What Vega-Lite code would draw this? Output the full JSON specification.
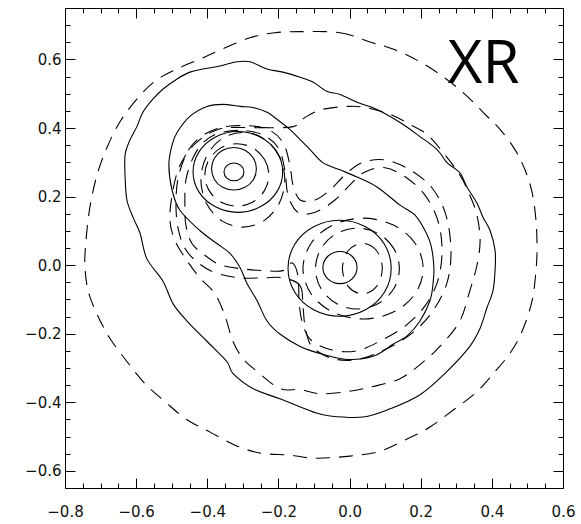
{
"$schema": "https://vega.github.io/schema/vega-lite/v6.json",
"width": 498, "height": 480,
"autosize": {"type": "none"},
"padding": {"left": 65, "top": 8, "right": 18, "bottom": 36},
"background": "white",
"config": {"view": {"stroke": "black", "strokeWidth": 1}},
"datasets": {
"contours": [
{"c":"S1","s":"o","i":0,"x":-0.280,"y":0.593},{"c":"S1","s":"o","i":1,"x":-0.232,"y":0.572},{"c":"S1","s":"o","i":2,"x":-0.187,"y":0.563},{"c":"S1","s":"o","i":3,"x":-0.139,"y":0.548},{"c":"S1","s":"o","i":4,"x":-0.103,"y":0.534},{"c":"S1","s":"o","i":5,"x":-0.064,"y":0.507},{"c":"S1","s":"o","i":6,"x":-0.027,"y":0.498},{"c":"S1","s":"o","i":7,"x":0.021,"y":0.475},{"c":"S1","s":"o","i":8,"x":0.077,"y":0.454},{"c":"S1","s":"o","i":9,"x":0.142,"y":0.416},{"c":"S1","s":"o","i":10,"x":0.198,"y":0.375},{"c":"S1","s":"o","i":11,"x":0.246,"y":0.337},{"c":"S1","s":"o","i":12,"x":0.274,"y":0.299},{"c":"S1","s":"o","i":13,"x":0.310,"y":0.269},{"c":"S1","s":"o","i":14,"x":0.330,"y":0.228},{"c":"S1","s":"o","i":15,"x":0.358,"y":0.181},{"c":"S1","s":"o","i":16,"x":0.375,"y":0.140},{"c":"S1","s":"o","i":17,"x":0.395,"y":0.101},{"c":"S1","s":"o","i":18,"x":0.409,"y":0.043},{"c":"S1","s":"o","i":19,"x":0.409,"y":-0.016},{"c":"S1","s":"o","i":20,"x":0.403,"y":-0.075},{"c":"S1","s":"o","i":21,"x":0.386,"y":-0.125},{"c":"S1","s":"o","i":22,"x":0.367,"y":-0.184},{"c":"S1","s":"o","i":23,"x":0.338,"y":-0.237},{"c":"S1","s":"o","i":24,"x":0.274,"y":-0.310},{"c":"S1","s":"o","i":25,"x":0.198,"y":-0.378},{"c":"S1","s":"o","i":26,"x":0.114,"y":-0.419},{"c":"S1","s":"o","i":27,"x":0.038,"y":-0.443},{"c":"S1","s":"o","i":28,"x":-0.055,"y":-0.440},{"c":"S1","s":"o","i":29,"x":-0.103,"y":-0.428},{"c":"S1","s":"o","i":30,"x":-0.196,"y":-0.390},{"c":"S1","s":"o","i":31,"x":-0.272,"y":-0.360},{"c":"S1","s":"o","i":32,"x":-0.328,"y":-0.316},{"c":"S1","s":"o","i":33,"x":-0.345,"y":-0.281},{"c":"S1","s":"o","i":34,"x":-0.401,"y":-0.222},{"c":"S1","s":"o","i":35,"x":-0.457,"y":-0.163},{"c":"S1","s":"o","i":36,"x":-0.496,"y":-0.113},{"c":"S1","s":"o","i":37,"x":-0.525,"y":-0.046},{"c":"S1","s":"o","i":38,"x":-0.570,"y":0.019},{"c":"S1","s":"o","i":39,"x":-0.589,"y":0.093},{"c":"S1","s":"o","i":40,"x":-0.609,"y":0.140},{"c":"S1","s":"o","i":41,"x":-0.626,"y":0.190},{"c":"S1","s":"o","i":42,"x":-0.631,"y":0.257},{"c":"S1","s":"o","i":43,"x":-0.631,"y":0.322},{"c":"S1","s":"o","i":44,"x":-0.617,"y":0.366},{"c":"S1","s":"o","i":45,"x":-0.598,"y":0.404},{"c":"S1","s":"o","i":46,"x":-0.581,"y":0.446},{"c":"S1","s":"o","i":47,"x":-0.553,"y":0.484},{"c":"S1","s":"o","i":48,"x":-0.525,"y":0.513},{"c":"S1","s":"o","i":49,"x":-0.485,"y":0.543},{"c":"S1","s":"o","i":50,"x":-0.449,"y":0.563},{"c":"S1","s":"o","i":51,"x":-0.412,"y":0.572},{"c":"S1","s":"o","i":52,"x":-0.364,"y":0.581},{"c":"S1","s":"o","i":53,"x":-0.317,"y":0.593},
{"c":"S2","s":"o","i":0,"x":-0.477,"y":0.160},{"c":"S2","s":"o","i":1,"x":-0.499,"y":0.219},{"c":"S2","s":"o","i":2,"x":-0.508,"y":0.293},{"c":"S2","s":"o","i":3,"x":-0.499,"y":0.351},{"c":"S2","s":"o","i":4,"x":-0.485,"y":0.387},{"c":"S2","s":"o","i":5,"x":-0.449,"y":0.434},{"c":"S2","s":"o","i":6,"x":-0.401,"y":0.463},{"c":"S2","s":"o","i":7,"x":-0.356,"y":0.469},{"c":"S2","s":"o","i":8,"x":-0.308,"y":0.463},{"c":"S2","s":"o","i":9,"x":-0.272,"y":0.460},{"c":"S2","s":"o","i":10,"x":-0.232,"y":0.446},{"c":"S2","s":"o","i":11,"x":-0.196,"y":0.419},{"c":"S2","s":"o","i":12,"x":-0.168,"y":0.396},{"c":"S2","s":"o","i":13,"x":-0.139,"y":0.366},{"c":"S2","s":"o","i":14,"x":-0.111,"y":0.337},{"c":"S2","s":"o","i":15,"x":-0.075,"y":0.299},{"c":"S2","s":"o","i":16,"x":-0.027,"y":0.278},{"c":"S2","s":"o","i":17,"x":0.021,"y":0.257},{"c":"S2","s":"o","i":18,"x":0.077,"y":0.228},{"c":"S2","s":"o","i":19,"x":0.142,"y":0.175},{"c":"S2","s":"o","i":20,"x":0.184,"y":0.146},{"c":"S2","s":"o","i":21,"x":0.212,"y":0.101},{"c":"S2","s":"o","i":22,"x":0.229,"y":0.057},{"c":"S2","s":"o","i":23,"x":0.237,"y":-0.007},{"c":"S2","s":"o","i":24,"x":0.234,"y":-0.060},{"c":"S2","s":"o","i":25,"x":0.226,"y":-0.104},{"c":"S2","s":"o","i":26,"x":0.198,"y":-0.163},{"c":"S2","s":"o","i":27,"x":0.161,"y":-0.207},{"c":"S2","s":"o","i":28,"x":0.122,"y":-0.231},{"c":"S2","s":"o","i":29,"x":0.066,"y":-0.266},{"c":"S2","s":"o","i":30,"x":-0.007,"y":-0.275},{"c":"S2","s":"o","i":31,"x":-0.075,"y":-0.260},{"c":"S2","s":"o","i":32,"x":-0.139,"y":-0.237},{"c":"S2","s":"o","i":33,"x":-0.196,"y":-0.201},{"c":"S2","s":"o","i":34,"x":-0.232,"y":-0.163},{"c":"S2","s":"o","i":35,"x":-0.260,"y":-0.104},{"c":"S2","s":"o","i":36,"x":-0.288,"y":-0.054},{"c":"S2","s":"o","i":37,"x":-0.308,"y":-0.007},{"c":"S2","s":"o","i":38,"x":-0.336,"y":0.034},{"c":"S2","s":"o","i":39,"x":-0.373,"y":0.063},{"c":"S2","s":"o","i":40,"x":-0.421,"y":0.101},
{"c":"S3","s":"o","i":0,"x":-0.188,"y":0.272},{"c":"S3","s":"o","i":1,"x":-0.205,"y":0.331},{"c":"S3","s":"o","i":2,"x":-0.251,"y":0.374},{"c":"S3","s":"o","i":3,"x":-0.314,"y":0.390},{"c":"S3","s":"o","i":4,"x":-0.377,"y":0.374},{"c":"S3","s":"o","i":5,"x":-0.423,"y":0.331},{"c":"S3","s":"o","i":6,"x":-0.440,"y":0.272},{"c":"S3","s":"o","i":7,"x":-0.423,"y":0.213},{"c":"S3","s":"o","i":8,"x":-0.377,"y":0.170},{"c":"S3","s":"o","i":9,"x":-0.314,"y":0.154},{"c":"S3","s":"o","i":10,"x":-0.251,"y":0.170},{"c":"S3","s":"o","i":11,"x":-0.205,"y":0.213},
{"c":"S4","s":"o","i":0,"x":-0.262,"y":0.281},{"c":"S4","s":"o","i":1,"x":-0.270,"y":0.312},{"c":"S4","s":"o","i":2,"x":-0.294,"y":0.335},{"c":"S4","s":"o","i":3,"x":-0.325,"y":0.343},{"c":"S4","s":"o","i":4,"x":-0.357,"y":0.335},{"c":"S4","s":"o","i":5,"x":-0.380,"y":0.312},{"c":"S4","s":"o","i":6,"x":-0.388,"y":0.281},{"c":"S4","s":"o","i":7,"x":-0.380,"y":0.250},{"c":"S4","s":"o","i":8,"x":-0.357,"y":0.227},{"c":"S4","s":"o","i":9,"x":-0.325,"y":0.219},{"c":"S4","s":"o","i":10,"x":-0.294,"y":0.227},{"c":"S4","s":"o","i":11,"x":-0.270,"y":0.250},
{"c":"S5","s":"o","i":0,"x":-0.297,"y":0.272},{"c":"S5","s":"o","i":1,"x":-0.305,"y":0.290},{"c":"S5","s":"o","i":2,"x":-0.325,"y":0.298},{"c":"S5","s":"o","i":3,"x":-0.345,"y":0.290},{"c":"S5","s":"o","i":4,"x":-0.353,"y":0.272},{"c":"S5","s":"o","i":5,"x":-0.345,"y":0.254},{"c":"S5","s":"o","i":6,"x":-0.325,"y":0.246},{"c":"S5","s":"o","i":7,"x":-0.305,"y":0.254},
{"c":"S6","s":"o","i":0,"x":0.117,"y":-0.009},{"c":"S6","s":"o","i":1,"x":0.098,"y":0.061},{"c":"S6","s":"o","i":2,"x":0.045,"y":0.112},{"c":"S6","s":"o","i":3,"x":-0.028,"y":0.131},{"c":"S6","s":"o","i":4,"x":-0.101,"y":0.112},{"c":"S6","s":"o","i":5,"x":-0.154,"y":0.061},{"c":"S6","s":"o","i":6,"x":-0.173,"y":-0.009},{"c":"S6","s":"o","i":7,"x":-0.154,"y":-0.079},{"c":"S6","s":"o","i":8,"x":-0.101,"y":-0.130},{"c":"S6","s":"o","i":9,"x":-0.028,"y":-0.149},{"c":"S6","s":"o","i":10,"x":0.045,"y":-0.130},{"c":"S6","s":"o","i":11,"x":0.098,"y":-0.079},
{"c":"S7","s":"o","i":0,"x":0.021,"y":-0.007},{"c":"S7","s":"o","i":1,"x":0.007,"y":0.026},{"c":"S7","s":"o","i":2,"x":-0.027,"y":0.040},{"c":"S7","s":"o","i":3,"x":-0.061,"y":0.026},{"c":"S7","s":"o","i":4,"x":-0.075,"y":-0.007},{"c":"S7","s":"o","i":5,"x":-0.061,"y":-0.040},{"c":"S7","s":"o","i":6,"x":-0.027,"y":-0.054},{"c":"S7","s":"o","i":7,"x":0.007,"y":-0.040},
{"c":"D1","s":"m","i":0,"x":-0.139,"y":0.681},{"c":"D1","s":"m","i":1,"x":-0.027,"y":0.678},{"c":"D1","s":"m","i":2,"x":0.057,"y":0.651},{"c":"D1","s":"m","i":3,"x":0.128,"y":0.628},{"c":"D1","s":"m","i":4,"x":0.198,"y":0.593},{"c":"D1","s":"m","i":5,"x":0.268,"y":0.546},{"c":"D1","s":"m","i":6,"x":0.330,"y":0.493},{"c":"D1","s":"m","i":7,"x":0.381,"y":0.440},{"c":"D1","s":"m","i":8,"x":0.423,"y":0.396},{"c":"D1","s":"m","i":9,"x":0.465,"y":0.337},{"c":"D1","s":"m","i":10,"x":0.493,"y":0.278},{"c":"D1","s":"m","i":11,"x":0.513,"y":0.213},{"c":"D1","s":"m","i":12,"x":0.524,"y":0.131},{"c":"D1","s":"m","i":13,"x":0.527,"y":0.051},{"c":"D1","s":"m","i":14,"x":0.524,"y":-0.016},{"c":"D1","s":"m","i":15,"x":0.513,"y":-0.104},{"c":"D1","s":"m","i":16,"x":0.485,"y":-0.193},{"c":"D1","s":"m","i":17,"x":0.451,"y":-0.257},{"c":"D1","s":"m","i":18,"x":0.409,"y":-0.310},{"c":"D1","s":"m","i":19,"x":0.358,"y":-0.369},{"c":"D1","s":"m","i":20,"x":0.296,"y":-0.419},{"c":"D1","s":"m","i":21,"x":0.226,"y":-0.472},{"c":"D1","s":"m","i":22,"x":0.156,"y":-0.510},{"c":"D1","s":"m","i":23,"x":0.085,"y":-0.543},{"c":"D1","s":"m","i":24,"x":0.001,"y":-0.557},{"c":"D1","s":"m","i":25,"x":-0.097,"y":-0.563},{"c":"D1","s":"m","i":26,"x":-0.168,"y":-0.554},{"c":"D1","s":"m","i":27,"x":-0.252,"y":-0.548},{"c":"D1","s":"m","i":28,"x":-0.322,"y":-0.525},{"c":"D1","s":"m","i":29,"x":-0.392,"y":-0.487},{"c":"D1","s":"m","i":30,"x":-0.457,"y":-0.451},{"c":"D1","s":"m","i":31,"x":-0.519,"y":-0.398},{"c":"D1","s":"m","i":32,"x":-0.575,"y":-0.346},{"c":"D1","s":"m","i":33,"x":-0.626,"y":-0.281},{"c":"D1","s":"m","i":34,"x":-0.674,"y":-0.213},{"c":"D1","s":"m","i":35,"x":-0.710,"y":-0.143},{"c":"D1","s":"m","i":36,"x":-0.735,"y":-0.075},{"c":"D1","s":"m","i":37,"x":-0.744,"y":-0.001},{"c":"D1","s":"m","i":38,"x":-0.741,"y":0.072},{"c":"D1","s":"m","i":39,"x":-0.730,"y":0.169},{"c":"D1","s":"m","i":40,"x":-0.710,"y":0.263},{"c":"D1","s":"m","i":41,"x":-0.682,"y":0.343},{"c":"D1","s":"m","i":42,"x":-0.645,"y":0.419},{"c":"D1","s":"m","i":43,"x":-0.598,"y":0.484},{"c":"D1","s":"m","i":44,"x":-0.547,"y":0.537},{"c":"D1","s":"m","i":45,"x":-0.485,"y":0.572},{"c":"D1","s":"m","i":46,"x":-0.421,"y":0.601},{"c":"D1","s":"m","i":47,"x":-0.356,"y":0.631},{"c":"D1","s":"m","i":48,"x":-0.280,"y":0.663},{"c":"D1","s":"m","i":49,"x":-0.210,"y":0.678},
{"c":"D2","s":"m","i":0,"x":-0.345,"y":0.401},{"c":"D2","s":"m","i":1,"x":-0.252,"y":0.401},{"c":"D2","s":"m","i":2,"x":-0.159,"y":0.404},{"c":"D2","s":"m","i":3,"x":-0.125,"y":0.431},{"c":"D2","s":"m","i":4,"x":-0.078,"y":0.454},{"c":"D2","s":"m","i":5,"x":-0.004,"y":0.463},{"c":"D2","s":"m","i":6,"x":0.043,"y":0.460},{"c":"D2","s":"m","i":7,"x":0.114,"y":0.440},{"c":"D2","s":"m","i":8,"x":0.170,"y":0.410},{"c":"D2","s":"m","i":9,"x":0.218,"y":0.381},{"c":"D2","s":"m","i":10,"x":0.268,"y":0.322},{"c":"D2","s":"m","i":11,"x":0.310,"y":0.263},{"c":"D2","s":"m","i":12,"x":0.338,"y":0.204},{"c":"D2","s":"m","i":13,"x":0.358,"y":0.146},{"c":"D2","s":"m","i":14,"x":0.367,"y":0.072},{"c":"D2","s":"m","i":15,"x":0.358,"y":-0.001},{"c":"D2","s":"m","i":16,"x":0.338,"y":-0.075},{"c":"D2","s":"m","i":17,"x":0.310,"y":-0.163},{"c":"D2","s":"m","i":18,"x":0.254,"y":-0.237},{"c":"D2","s":"m","i":19,"x":0.198,"y":-0.290},{"c":"D2","s":"m","i":20,"x":0.142,"y":-0.331},{"c":"D2","s":"m","i":21,"x":0.066,"y":-0.354},{"c":"D2","s":"m","i":22,"x":-0.007,"y":-0.369},{"c":"D2","s":"m","i":23,"x":-0.083,"y":-0.375},{"c":"D2","s":"m","i":24,"x":-0.139,"y":-0.363},{"c":"D2","s":"m","i":25,"x":-0.196,"y":-0.360},{"c":"D2","s":"m","i":26,"x":-0.260,"y":-0.310},{"c":"D2","s":"m","i":27,"x":-0.300,"y":-0.272},{"c":"D2","s":"m","i":28,"x":-0.328,"y":-0.222},{"c":"D2","s":"m","i":29,"x":-0.350,"y":-0.149},{"c":"D2","s":"m","i":30,"x":-0.378,"y":-0.084},{"c":"D2","s":"m","i":31,"x":-0.421,"y":-0.037},{"c":"D2","s":"m","i":32,"x":-0.457,"y":0.013},{"c":"D2","s":"m","i":33,"x":-0.491,"y":0.072},{"c":"D2","s":"m","i":34,"x":-0.505,"y":0.131},{"c":"D2","s":"m","i":35,"x":-0.499,"y":0.204},{"c":"D2","s":"m","i":36,"x":-0.482,"y":0.278},{"c":"D2","s":"m","i":37,"x":-0.454,"y":0.331},{"c":"D2","s":"m","i":38,"x":-0.421,"y":0.366},{"c":"D2","s":"m","i":39,"x":-0.384,"y":0.390},
{"c":"DA","s":"m","i":0,"x":-0.182,"y":0.249},{"c":"DA","s":"m","i":1,"x":-0.198,"y":0.318},{"c":"DA","s":"m","i":2,"x":-0.241,"y":0.369},{"c":"DA","s":"m","i":3,"x":-0.300,"y":0.387},{"c":"DA","s":"m","i":4,"x":-0.359,"y":0.369},{"c":"DA","s":"m","i":5,"x":-0.402,"y":0.318},{"c":"DA","s":"m","i":6,"x":-0.418,"y":0.249},{"c":"DA","s":"m","i":7,"x":-0.402,"y":0.180},{"c":"DA","s":"m","i":8,"x":-0.359,"y":0.129},{"c":"DA","s":"m","i":9,"x":-0.300,"y":0.111},{"c":"DA","s":"m","i":10,"x":-0.241,"y":0.129},{"c":"DA","s":"m","i":11,"x":-0.198,"y":0.180},
{"c":"DA0","s":"m","i":0,"x":-0.227,"y":0.263},{"c":"DA0","s":"m","i":1,"x":-0.239,"y":0.308},{"c":"DA0","s":"m","i":2,"x":-0.272,"y":0.342},{"c":"DA0","s":"m","i":3,"x":-0.317,"y":0.354},{"c":"DA0","s":"m","i":4,"x":-0.362,"y":0.342},{"c":"DA0","s":"m","i":5,"x":-0.395,"y":0.308},{"c":"DA0","s":"m","i":6,"x":-0.407,"y":0.263},{"c":"DA0","s":"m","i":7,"x":-0.395,"y":0.218},{"c":"DA0","s":"m","i":8,"x":-0.362,"y":0.184},{"c":"DA0","s":"m","i":9,"x":-0.317,"y":0.172},{"c":"DA0","s":"m","i":10,"x":-0.272,"y":0.184},{"c":"DA0","s":"m","i":11,"x":-0.239,"y":0.218},
{"c":"DB","s":"m","i":0,"x":-0.187,"y":-0.016},{"c":"DB","s":"m","i":1,"x":-0.162,"y":0.007},{"c":"DB","s":"m","i":2,"x":-0.145,"y":-0.031},{"c":"DB","s":"m","i":3,"x":-0.142,"y":-0.104},{"c":"DB","s":"m","i":4,"x":-0.134,"y":-0.163},{"c":"DB","s":"m","i":5,"x":-0.111,"y":-0.216},{"c":"DB","s":"m","i":6,"x":-0.055,"y":-0.246},{"c":"DB","s":"m","i":7,"x":0.015,"y":-0.251},{"c":"DB","s":"m","i":8,"x":0.085,"y":-0.222},{"c":"DB","s":"m","i":9,"x":0.156,"y":-0.178},{"c":"DB","s":"m","i":10,"x":0.212,"y":-0.119},{"c":"DB","s":"m","i":11,"x":0.248,"y":-0.046},{"c":"DB","s":"m","i":12,"x":0.260,"y":0.043},{"c":"DB","s":"m","i":13,"x":0.248,"y":0.131},{"c":"DB","s":"m","i":14,"x":0.212,"y":0.204},{"c":"DB","s":"m","i":15,"x":0.161,"y":0.254},{"c":"DB","s":"m","i":16,"x":0.100,"y":0.284},{"c":"DB","s":"m","i":17,"x":0.043,"y":0.272},{"c":"DB","s":"m","i":18,"x":0.001,"y":0.234},{"c":"DB","s":"m","i":19,"x":-0.041,"y":0.190},{"c":"DB","s":"m","i":20,"x":-0.097,"y":0.154},{"c":"DB","s":"m","i":21,"x":-0.145,"y":0.154},{"c":"DB","s":"m","i":22,"x":-0.173,"y":0.204},{"c":"DB","s":"m","i":23,"x":-0.182,"y":0.278},{"c":"DB","s":"m","i":24,"x":-0.201,"y":0.343},{"c":"DB","s":"m","i":25,"x":-0.246,"y":0.381},{"c":"DB","s":"m","i":26,"x":-0.308,"y":0.393},{"c":"DB","s":"m","i":27,"x":-0.370,"y":0.384},{"c":"DB","s":"m","i":28,"x":-0.412,"y":0.357},{"c":"DB","s":"m","i":29,"x":-0.440,"y":0.313},{"c":"DB","s":"m","i":30,"x":-0.460,"y":0.249},{"c":"DB","s":"m","i":31,"x":-0.463,"y":0.175},{"c":"DB","s":"m","i":32,"x":-0.460,"y":0.116},{"c":"DB","s":"m","i":33,"x":-0.443,"y":0.063},{"c":"DB","s":"m","i":34,"x":-0.406,"y":0.028},{"c":"DB","s":"m","i":35,"x":-0.364,"y":0.001},{"c":"DB","s":"m","i":36,"x":-0.308,"y":-0.010},{"c":"DB","s":"m","i":37,"x":-0.243,"y":-0.016},
{"c":"DC","s":"m","i":0,"x":-0.187,"y":-0.037},{"c":"DC","s":"m","i":1,"x":-0.139,"y":-0.060},{"c":"DC","s":"m","i":2,"x":-0.131,"y":-0.119},{"c":"DC","s":"m","i":3,"x":-0.125,"y":-0.178},{"c":"DC","s":"m","i":4,"x":-0.106,"y":-0.237},{"c":"DC","s":"m","i":5,"x":-0.049,"y":-0.272},{"c":"DC","s":"m","i":6,"x":0.021,"y":-0.275},{"c":"DC","s":"m","i":7,"x":0.100,"y":-0.246},{"c":"DC","s":"m","i":8,"x":0.175,"y":-0.199},{"c":"DC","s":"m","i":9,"x":0.234,"y":-0.134},{"c":"DC","s":"m","i":10,"x":0.274,"y":-0.051},{"c":"DC","s":"m","i":11,"x":0.285,"y":0.043},{"c":"DC","s":"m","i":12,"x":0.271,"y":0.146},{"c":"DC","s":"m","i":13,"x":0.232,"y":0.225},{"c":"DC","s":"m","i":14,"x":0.170,"y":0.278},{"c":"DC","s":"m","i":15,"x":0.100,"y":0.307},{"c":"DC","s":"m","i":16,"x":0.035,"y":0.299},{"c":"DC","s":"m","i":17,"x":-0.013,"y":0.263},{"c":"DC","s":"m","i":18,"x":-0.055,"y":0.219},{"c":"DC","s":"m","i":19,"x":-0.097,"y":0.190},{"c":"DC","s":"m","i":20,"x":-0.139,"y":0.190},{"c":"DC","s":"m","i":21,"x":-0.159,"y":0.234},{"c":"DC","s":"m","i":22,"x":-0.168,"y":0.293},{"c":"DC","s":"m","i":23,"x":-0.187,"y":0.357},{"c":"DC","s":"m","i":24,"x":-0.229,"y":0.396},{"c":"DC","s":"m","i":25,"x":-0.294,"y":0.407},{"c":"DC","s":"m","i":26,"x":-0.364,"y":0.401},{"c":"DC","s":"m","i":27,"x":-0.421,"y":0.372},{"c":"DC","s":"m","i":28,"x":-0.457,"y":0.328},{"c":"DC","s":"m","i":29,"x":-0.482,"y":0.254},{"c":"DC","s":"m","i":30,"x":-0.488,"y":0.175},{"c":"DC","s":"m","i":31,"x":-0.482,"y":0.107},{"c":"DC","s":"m","i":32,"x":-0.463,"y":0.049},{"c":"DC","s":"m","i":33,"x":-0.426,"y":0.007},{"c":"DC","s":"m","i":34,"x":-0.378,"y":-0.022},{"c":"DC","s":"m","i":35,"x":-0.308,"y":-0.037},{"c":"DC","s":"m","i":36,"x":-0.243,"y":-0.037},
{"c":"DRa","s":"m","i":0,"x":0.092,"y":-0.010},{"c":"DRa","s":"m","i":1,"x":0.076,"y":0.042},{"c":"DRa","s":"m","i":2,"x":0.036,"y":0.064},{"c":"DRa","s":"m","i":3,"x":-0.004,"y":0.042},{"c":"DRa","s":"m","i":4,"x":-0.020,"y":-0.010},{"c":"DRa","s":"m","i":5,"x":-0.004,"y":-0.062},{"c":"DRa","s":"m","i":6,"x":0.036,"y":-0.084},{"c":"DRa","s":"m","i":7,"x":0.076,"y":-0.062},
{"c":"DRb","s":"m","i":0,"x":0.140,"y":-0.010},{"c":"DRb","s":"m","i":1,"x":0.124,"y":0.049},{"c":"DRb","s":"m","i":2,"x":0.081,"y":0.092},{"c":"DRb","s":"m","i":3,"x":0.022,"y":0.108},{"c":"DRb","s":"m","i":4,"x":-0.037,"y":0.092},{"c":"DRb","s":"m","i":5,"x":-0.080,"y":0.049},{"c":"DRb","s":"m","i":6,"x":-0.096,"y":-0.010},{"c":"DRb","s":"m","i":7,"x":-0.080,"y":-0.069},{"c":"DRb","s":"m","i":8,"x":-0.037,"y":-0.112},{"c":"DRb","s":"m","i":9,"x":0.022,"y":-0.128},{"c":"DRb","s":"m","i":10,"x":0.081,"y":-0.112},{"c":"DRb","s":"m","i":11,"x":0.124,"y":-0.069},
{"c":"DRc","s":"m","i":0,"x":0.207,"y":-0.010},{"c":"DRc","s":"m","i":1,"x":0.184,"y":0.064},{"c":"DRc","s":"m","i":2,"x":0.123,"y":0.117},{"c":"DRc","s":"m","i":3,"x":0.038,"y":0.137},{"c":"DRc","s":"m","i":4,"x":-0.047,"y":0.117},{"c":"DRc","s":"m","i":5,"x":-0.108,"y":0.064},{"c":"DRc","s":"m","i":6,"x":-0.131,"y":-0.010},{"c":"DRc","s":"m","i":7,"x":-0.108,"y":-0.084},{"c":"DRc","s":"m","i":8,"x":-0.047,"y":-0.137},{"c":"DRc","s":"m","i":9,"x":0.038,"y":-0.157},{"c":"DRc","s":"m","i":10,"x":0.123,"y":-0.137},{"c":"DRc","s":"m","i":11,"x":0.184,"y":-0.084}
],
"labels": [{"t": "XR", "x": 0.377, "y": 0.531}]
},
"layer": [
{
"data": {"name": "contours"},
"transform": [{"filter": "datum.s == 'o'"}],
"mark": {"type": "line", "interpolate": "cardinal-closed", "stroke": "black", "strokeWidth": 1.1},
"encoding": {
"x": {"field": "x", "type": "quantitative", "scale": {"domain": [-0.8, 0.6], "nice": false, "zero": false},
"axis": {"orient": "bottom", "title": null, "grid": false, "domain": false,
"values": [-0.8,-0.75,-0.7,-0.65,-0.6,-0.55,-0.5,-0.45,-0.4,-0.35,-0.3,-0.25,-0.2,-0.15,-0.1,-0.05,0,0.05,0.1,0.15,0.2,0.25,0.3,0.35,0.4,0.45,0.5,0.55,0.6],
"labelExpr": "abs(datum.value*5-round(datum.value*5))<0.01 ? replace(format(datum.value,'.1f'),'-','\u2212') : ''",
"labelFont": "DejaVu Sans", "labelFontSize": 15, "labelColor": "#111111", "labelPadding": 26,
"labelOverlap": false, "labelFlush": false, "labelBound": false,
"tickColor": "black", "tickWidth": 1,
"tickSize": {"condition": {"test": "abs(datum.value*5-round(datum.value*5))<0.01", "value": -10}, "value": -5}}},
"y": {"field": "y", "type": "quantitative", "scale": {"domain": [-0.65, 0.75], "nice": false, "zero": false},
"axis": {"orient": "left", "title": null, "grid": false, "domain": false,
"values": [-0.65,-0.6,-0.55,-0.5,-0.45,-0.4,-0.35,-0.3,-0.25,-0.2,-0.15,-0.1,-0.05,0,0.05,0.1,0.15,0.2,0.25,0.3,0.35,0.4,0.45,0.5,0.55,0.6,0.65,0.7,0.75],
"labelExpr": "abs(datum.value*5-round(datum.value*5))<0.01 ? replace(format(datum.value,'.1f'),'-','\u2212') : ''",
"labelFont": "DejaVu Sans", "labelFontSize": 15, "labelColor": "#111111", "labelPadding": 14,
"labelOverlap": false, "labelFlush": false, "labelBound": false,
"tickColor": "black", "tickWidth": 1,
"tickSize": {"condition": {"test": "abs(datum.value*5-round(datum.value*5))<0.01", "value": -10}, "value": -5}}},
"detail": {"field": "c"},
"order": {"field": "i", "type": "quantitative"}
}
},
{
"data": {"name": "contours"},
"transform": [{"filter": "datum.s == 'm'"}],
"mark": {"type": "line", "interpolate": "cardinal-closed", "stroke": "black", "strokeWidth": 1.1, "strokeDash": [14, 9]},
"encoding": {
"x": {"field": "x", "type": "quantitative", "scale": {"domain": [-0.8, 0.6], "nice": false, "zero": false},
"axis": {"orient": "top", "title": null, "grid": false, "domain": false, "labels": false,
"values": [-0.8,-0.75,-0.7,-0.65,-0.6,-0.55,-0.5,-0.45,-0.4,-0.35,-0.3,-0.25,-0.2,-0.15,-0.1,-0.05,0,0.05,0.1,0.15,0.2,0.25,0.3,0.35,0.4,0.45,0.5,0.55,0.6],
"tickColor": "black", "tickWidth": 1,
"tickSize": {"condition": {"test": "abs(datum.value*5-round(datum.value*5))<0.01", "value": -10}, "value": -5}}},
"y": {"field": "y", "type": "quantitative", "scale": {"domain": [-0.65, 0.75], "nice": false, "zero": false},
"axis": {"orient": "right", "title": null, "grid": false, "domain": false, "labels": false,
"values": [-0.65,-0.6,-0.55,-0.5,-0.45,-0.4,-0.35,-0.3,-0.25,-0.2,-0.15,-0.1,-0.05,0,0.05,0.1,0.15,0.2,0.25,0.3,0.35,0.4,0.45,0.5,0.55,0.6,0.65,0.7,0.75],
"tickColor": "black", "tickWidth": 1,
"tickSize": {"condition": {"test": "abs(datum.value*5-round(datum.value*5))<0.01", "value": -10}, "value": -5}}},
"detail": {"field": "c"},
"order": {"field": "i", "type": "quantitative"}
}
},
{
"data": {"name": "labels"},
"mark": {"type": "text", "font": "Open Sans", "fontSize": 60, "align": "center", "baseline": "alphabetic", "color": "black"},
"encoding": {
"x": {"field": "x", "type": "quantitative", "axis": null},
"y": {"field": "y", "type": "quantitative", "axis": null},
"text": {"field": "t"}
}
}
],
"resolve": {"axis": {"x": "independent", "y": "independent"}}
}
